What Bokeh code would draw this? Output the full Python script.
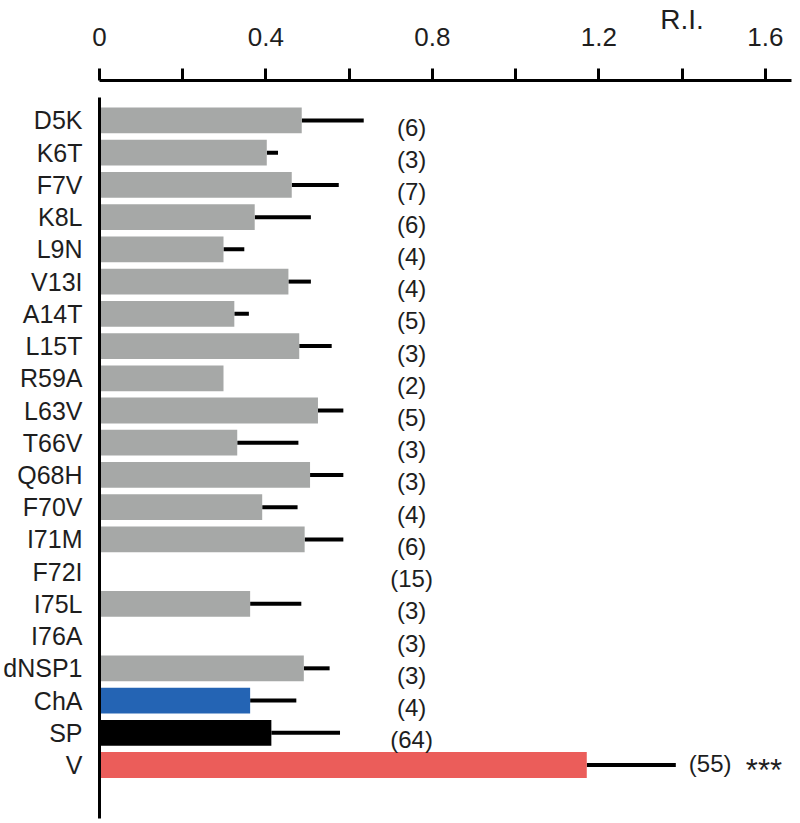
import math
from bokeh.plotting import figure
from bokeh.models import Range1d, FixedTicker, ColumnDataSource, LinearAxis
from bokeh.core.properties import value
from bokeh.embed import file_html
from bokeh.resources import INLINE

# ---- data ----
categories = ["D5K", "K6T", "F7V", "K8L", "L9N", "V13I", "A14T", "L15T", "R59A",
              "L63V", "T66V", "Q68H", "F70V", "I71M", "F72I", "I75L", "I76A",
              "dNSP1", "ChA", "SP", "V"]
means = [0.486, 0.402, 0.462, 0.373, 0.298, 0.454, 0.324, 0.480, 0.298,
         0.525, 0.331, 0.506, 0.391, 0.493, math.nan, 0.362, math.nan,
         0.491, 0.362, 0.413, 1.171]
upper = [0.635, 0.429, 0.575, 0.508, 0.348, 0.508, 0.359, 0.558, math.nan,
         0.586, 0.478, 0.586, 0.476, 0.586, math.nan, 0.485, math.nan,
         0.553, 0.473, 0.578, 1.385]
counts = [6, 3, 7, 6, 4, 4, 5, 3, 2, 5, 3, 3, 4, 6, 15, 3, 3, 3, 4, 64, 55]
x_ticks = [0, 0.4, 0.8, 1.2, 1.6]
x_minor = [0.2, 0.6, 1.0, 1.4]
x_tick_labels = ["0", "0.4", "0.8", "1.2", "1.6"]
unit_label = "R.I."
unit_pos = 1.4

GRAY = "#a6a8a7"
colors = [GRAY] * 18 + ["#2464b4", "#000000", "#eb5d5a"]

FONT = "Liberation Sans"
TXT = "#1e1e1e"

n = len(categories)
idx = list(range(n))
pad_top, pad_bot = 1.24, 1.66

p = figure(width=800, height=820, output_backend="svg", toolbar_location=None,
           x_range=Range1d(0, 1.663),
           y_range=Range1d(n - 1 + pad_bot, -pad_top),
           x_axis_location="above",
           min_border_left=98, min_border_right=9, min_border_top=78,
           min_border_bottom=2)
p.outline_line_color = None
p.xgrid.visible = False
p.ygrid.visible = False
p.background_fill_color = "white"
p.border_fill_color = "white"

# top x axis
xa = p.xaxis[0]
xa.ticker = FixedTicker(ticks=x_ticks, minor_ticks=x_minor)
xa.major_label_overrides = {t: l for t, l in zip(x_ticks, x_tick_labels)}
xa.axis_line_width = 3
xa.axis_line_color = "black"
xa.major_tick_line_width = 3
xa.minor_tick_line_width = 3
xa.major_tick_out = 12
xa.major_tick_in = 0
xa.minor_tick_out = 12
xa.minor_tick_in = 0
xa.major_tick_line_color = "black"
xa.minor_tick_line_color = "black"
xa.major_label_text_font = FONT
xa.major_label_text_font_size = "26px"
xa.major_label_text_color = TXT
xa.major_label_standoff = 23

# unit label as an extra (line-less) axis above
ua = LinearAxis(ticker=FixedTicker(ticks=[unit_pos], minor_ticks=[]),
                major_label_overrides={unit_pos: unit_label})
ua.axis_line_color = None
ua.major_tick_line_color = None
ua.minor_tick_line_color = None
ua.major_tick_out = 0
ua.major_tick_in = 0
ua.minor_tick_out = 0
ua.minor_tick_in = 0
ua.major_label_text_font = FONT
ua.major_label_text_font_size = "28px"
ua.major_label_text_color = TXT
ua.major_label_standoff = -10
p.add_layout(ua, "above")

# left y axis
ya = p.yaxis[0]
ya.ticker = FixedTicker(ticks=idx)
ya.major_label_overrides = {i: c for i, c in zip(idx, categories)}
ya.bounds = (-0.70, n - 1 + pad_bot)
ya.axis_line_width = 3
ya.axis_line_color = "black"
ya.major_tick_out = 0
ya.major_tick_in = 0
ya.minor_tick_out = 0
ya.minor_tick_in = 0
ya.major_tick_line_color = None
ya.minor_tick_line_color = None
ya.major_label_text_font = FONT
ya.major_label_text_font_size = "25px"
ya.major_label_text_color = TXT
ya.major_label_standoff = 17

src = ColumnDataSource(dict(y=idx, m=means, u=upper, c=colors))

p.segment(x0="m", x1="u", y0="y", y1="y", source=src, line_width=4,
          line_color="black")
p.hbar(y="y", left=0, right="m", height=0.8, fill_color="c", line_color=None,
       source=src)

# n labels
src_n = ColumnDataSource(dict(y=idx[:-1], n=[f"({k})" for k in counts[:-1]]))
p.text(x=0.75, y="y", text="n", source=src_n, text_font=value(FONT),
       text_font_size="24px", text_align="center", text_baseline="middle",
       text_color=TXT, y_offset=7)
src_v = ColumnDataSource(dict(y=idx[-1:], x=upper[-1:], n=[f"({counts[-1]})"]))
p.text(x="x", y="y", text="n", source=src_v, text_font=value(FONT),
       text_font_size="24px", text_align="left", text_baseline="middle",
       text_color=TXT, x_offset=13, y_offset=-2)
p.text(x="x", y="y", text=value("***"), source=src_v, text_font=value(FONT),
       text_font_size="31px", text_align="left", text_baseline="alphabetic",
       text_color=TXT, x_offset=70, y_offset=5)

open("out.html", "w").write(file_html(p, INLINE))
